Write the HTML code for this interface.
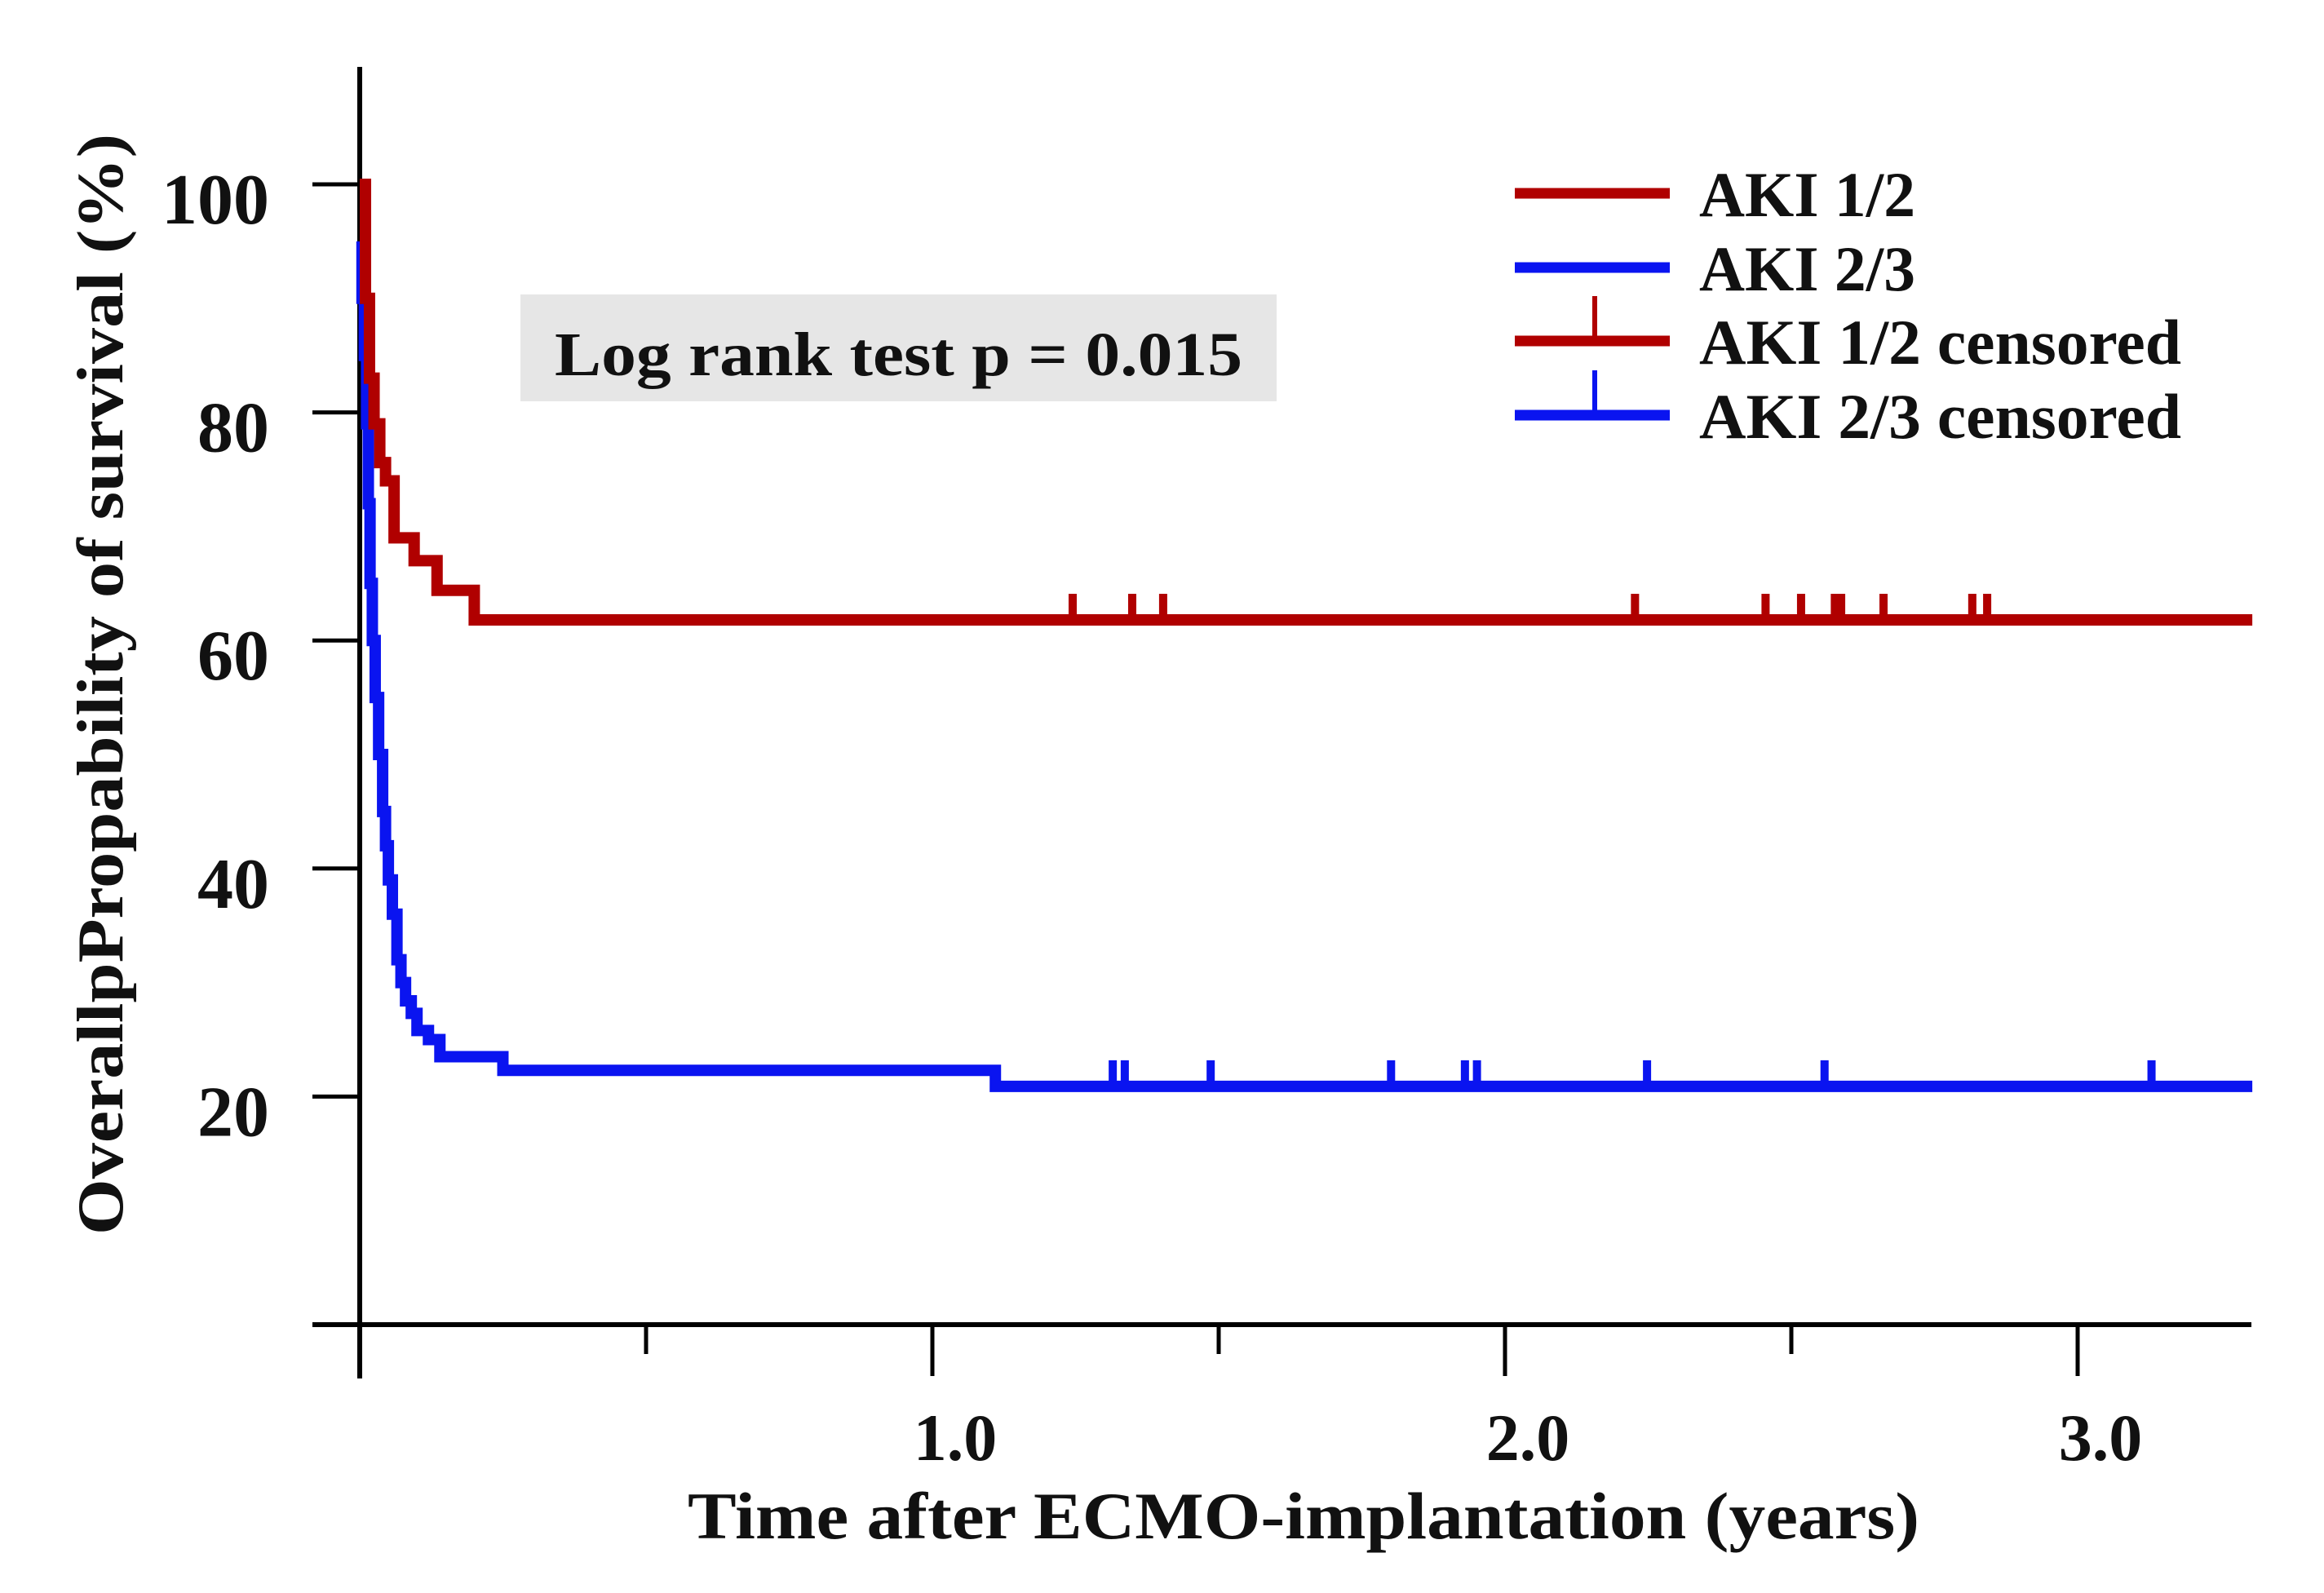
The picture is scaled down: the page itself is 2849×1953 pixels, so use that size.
<!DOCTYPE html>
<html><head><meta charset="utf-8"><style>
html,body{margin:0;padding:0;background:#fff}
svg{display:block}
text{font-family:"Liberation Serif",serif;font-weight:bold;fill:#111}
</style></head><body>
<svg id="chart" width="2849" height="1953" viewBox="0 0 2849 1953" xmlns="http://www.w3.org/2000/svg">
<g id="axes"></g>
<g id="series"></g>
<g>
<rect x="638" y="361" width="927" height="131" fill="#e6e6e6"/>
<text x="680" y="460" font-size="76" textLength="843" lengthAdjust="spacingAndGlyphs">Log rank test p = 0.015</text>
</g>
<g id="legend"></g>
<text x="1598" y="1886" font-size="82" text-anchor="middle" textLength="1510" lengthAdjust="spacingAndGlyphs">Time after ECMO-implantation  (years)</text>
<text transform="translate(150,839) rotate(-90)" font-size="80" text-anchor="middle" textLength="1350" lengthAdjust="spacingAndGlyphs">OverallpPropability of survival (%)</text>
</svg>
<script>
const yTicks = [20, 40, 60, 80, 100];
const xTicks = [1.0, 2.0, 3.0];
const xMinorTicks = [0, 0.5, 1.5, 2.5];
const redTimes = [0, 0.01, 0.017, 0.025, 0.035, 0.045, 0.06, 0.095, 0.135, 0.2];
const redSurv = [100, 90, 83, 79, 75.6, 74, 69, 67, 64.4, 61.8];
const blueTimes = [0, 0.004, 0.008, 0.012, 0.015, 0.018, 0.022, 0.027, 0.033, 0.04, 0.045, 0.05, 0.057, 0.065, 0.072, 0.08, 0.09, 0.1, 0.12, 0.14, 0.25, 1.11];
const blueSurv = [95, 90, 85, 79, 72, 65, 60, 55, 50, 45, 42, 39, 36, 32, 30, 28.4, 27.3, 25.8, 25, 23.5, 22.3, 20.9];
const redCensor = [1.245, 1.349, 1.403, 2.227, 2.455, 2.517, 2.576, 2.587, 2.661, 2.816, 2.842];
const blueCensor = [1.315, 1.336, 1.486, 1.801, 1.930, 1.951, 2.248, 2.558, 3.129];
const tEnd = 3.305;

const NS = "http://www.w3.org/2000/svg";
const X0 = 441, PX_PER_YEAR = 702;
const Y0 = 1624, PX_PER_PCT = 13.98;
const xs = t => X0 + t * PX_PER_YEAR;
const ys = s => Y0 - s * PX_PER_PCT;
function mk(tag, attrs, parent) {
  const el = document.createElementNS(NS, tag);
  for (const k in attrs) el.setAttribute(k, attrs[k]);
  parent.appendChild(el);
  return el;
}
const axes = document.getElementById('axes');
let el;
el = mk('line', {x1: X0, y1: 82, x2: X0, y2: 1690, stroke: '#000', 'stroke-width': 6}, axes);


el = mk('line', {x1: 383, y1: Y0, x2: 2760, y2: Y0, stroke: '#000', 'stroke-width': 6}, axes);


yTicks.forEach(v => {
  const t = mk('line', {x1: 383, y1: ys(v), x2: X0, y2: ys(v), stroke: '#000', 'stroke-width': 5}, axes);
  
  
  const l = mk('text', {x: 330, y: ys(v) + 48, 'font-size': 88, 'text-anchor': 'end'}, axes);
  l.textContent = String(v);
  
  
});
xTicks.forEach(v => {
  const t = mk('line', {x1: xs(v), y1: Y0, x2: xs(v), y2: 1687, stroke: '#000', 'stroke-width': 5}, axes);
  
  
  const l = mk('text', {x: xs(v) + 28, y: 1790, 'font-size': 82, 'text-anchor': 'middle'}, axes);
  l.textContent = v.toFixed(1);
  
  
});
xMinorTicks.forEach(v => {
  const t = mk('line', {x1: xs(v), y1: Y0, x2: xs(v), y2: v === 0 ? 1690 : 1660, stroke: '#000', 'stroke-width': 5}, axes);
  
  
});
const series = document.getElementById('series');
function stepPath(times, surv) {
  let d = 'M' + xs(times[0]) + ' ' + ys(surv[0]);
  for (let i = 1; i < times.length; i++) {
    d += ' H' + xs(times[i]) + ' V' + ys(surv[i]);
  }
  d += ' H' + xs(tEnd);
  return d;
}
function drawSeries(times, surv, censor, color, name) {
  const p = mk('path', {d: stepPath(times, surv), fill: 'none', stroke: color, 'stroke-width': 14, 'stroke-linejoin': 'miter'}, series);
  
  
  const last = surv[surv.length - 1];
  censor.forEach(t => {
    const c = mk('line', {x1: xs(t), y1: ys(last), x2: xs(t), y2: ys(last) - 32, stroke: color, 'stroke-width': 10}, series);
    
    
  });
}
drawSeries(blueTimes, blueSurv, blueCensor, '#0a14f0', 'aki-2-3');
drawSeries(redTimes, redSurv, redCensor, '#b00000', 'aki-1-2');

const legend = document.getElementById('legend');
const legItems = [
  ['AKI 1/2', '#b00000', false, 237, 265],
  ['AKI 2/3', '#0a14f0', false, 328, 265],
  ['AKI 1/2 censored', '#b00000', true, 418, 591],
  ['AKI 2/3 censored', '#0a14f0', true, 509, 591]
];
legItems.forEach(it => {
  const g = mk('g', {}, legend);
  
  
  mk('line', {x1: 1857, y1: it[3], x2: 2047, y2: it[3], stroke: it[1], 'stroke-width': 13}, g);
  if (it[2]) mk('line', {x1: 1955, y1: it[3], x2: 1955, y2: it[3] - 55, stroke: it[1], 'stroke-width': 6}, g);
  const t = mk('text', {x: 2083, y: it[3] + 28, 'font-size': 78, textLength: it[4], lengthAdjust: 'spacingAndGlyphs'}, g);
  t.textContent = it[0];
});
</script>
</body></html>
